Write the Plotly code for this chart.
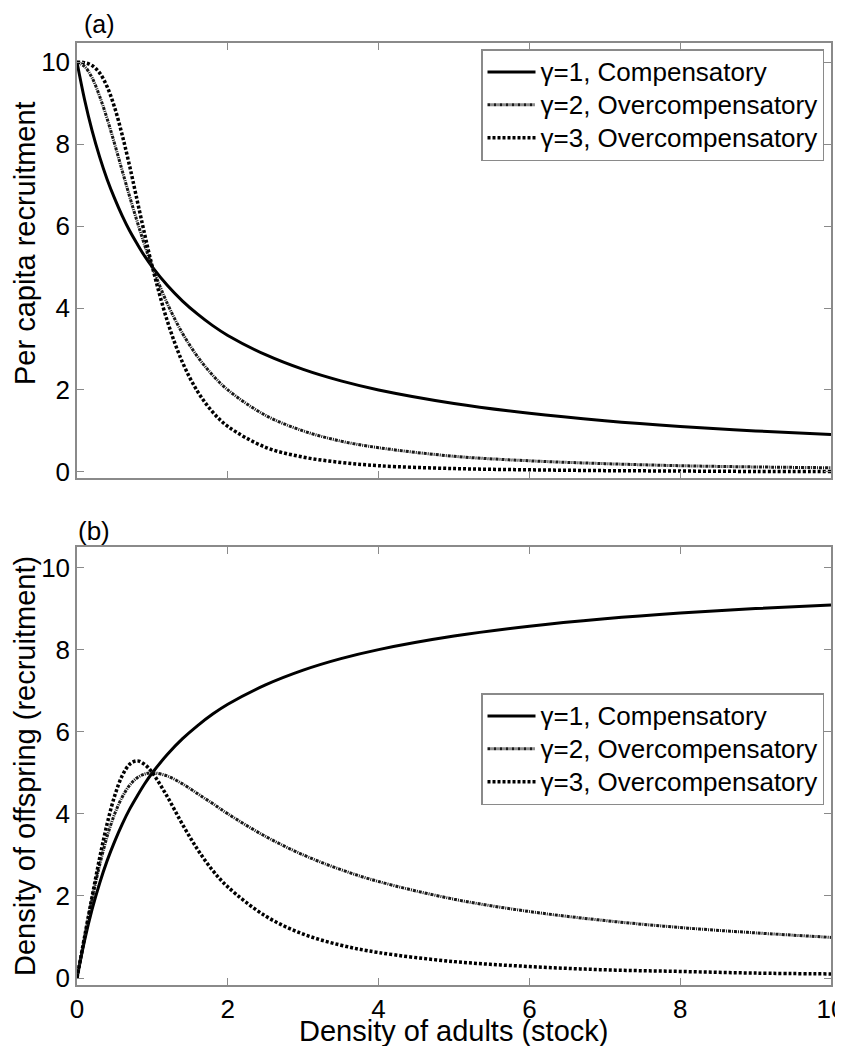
import plotly.graph_objects as go

# Density of adults (stock) sample positions
stock = [0, 0.1, 0.2, 0.3, 0.4, 0.5, 0.6, 0.7, 0.8, 0.9, 1.0, 1.2, 1.4, 1.6, 1.8,
         2.0, 2.5, 3.0, 3.5, 4.0, 5.0, 6.0, 7.0, 8.0, 9.0, 10.0]

# Panel (a): per capita recruitment
percap_g1 = [10, 9.09, 8.33, 7.69, 7.14, 6.67, 6.25, 5.88, 5.56, 5.26, 5.0, 4.55, 4.17, 3.85, 3.57,
             3.33, 2.86, 2.5, 2.22, 2.0, 1.67, 1.43, 1.25, 1.11, 1.0, 0.91]
percap_g2 = [10, 9.90, 9.62, 9.17, 8.62, 8.0, 7.35, 6.71, 6.10, 5.52, 5.0, 4.10, 3.38, 2.81, 2.36,
             2.0, 1.38, 1.0, 0.75, 0.59, 0.38, 0.27, 0.20, 0.15, 0.12, 0.10]
percap_g3 = [10, 9.99, 9.92, 9.74, 9.40, 8.89, 8.22, 7.45, 6.61, 5.78, 5.0, 3.67, 2.67, 1.96, 1.46,
             1.11, 0.60, 0.36, 0.23, 0.15, 0.08, 0.05, 0.03, 0.02, 0.01, 0.01]

# Panel (b): density of offspring (recruitment)
offs_g1 = [0, 0.91, 1.67, 2.31, 2.86, 3.33, 3.75, 4.12, 4.44, 4.74, 5.0, 5.45, 5.83, 6.15, 6.43,
           6.67, 7.14, 7.5, 7.78, 8.0, 8.33, 8.57, 8.75, 8.89, 9.0, 9.09]
offs_g2 = [0, 0.99, 1.92, 2.75, 3.45, 4.0, 4.41, 4.70, 4.88, 4.97, 5.0, 4.92, 4.73, 4.49, 4.25,
           4.0, 3.45, 3.0, 2.64, 2.35, 1.92, 1.62, 1.40, 1.23, 1.10, 0.99]
offs_g3 = [0, 1.0, 1.98, 2.92, 3.76, 4.44, 4.93, 5.21, 5.29, 5.20, 5.0, 4.41, 3.74, 3.13, 2.62,
           2.22, 1.51, 1.07, 0.80, 0.62, 0.40, 0.28, 0.20, 0.16, 0.12, 0.10]

names = ["\u03b3=1, Compensatory", "\u03b3=2, Overcompensatory", "\u03b3=3, Overcompensatory"]
xticks = [0, 2, 4, 6, 8, 10]
yticks = [0, 2, 4, 6, 8, 10]

styles = [
    dict(color="black", width=3, dash="solid"),
    dict(color="#1a1a1a", width=3, dash="3px,1px,1px,1px"),
    dict(color="black", width=3.5, dash="3px,2px"),
]


def big(s):
    return '<span style="font-size:26px">' + s + "</span>"


fig = go.Figure()
for vals, nm, st in zip([percap_g1, percap_g2, percap_g3], names, styles):
    fig.add_trace(go.Scatter(x=stock, y=vals, mode="lines", name=big(nm), line=dict(shape="spline", **st),
                             xaxis="x", yaxis="y", legend="legend"))
for vals, nm, st in zip([offs_g1, offs_g2, offs_g3], names, styles):
    fig.add_trace(go.Scatter(x=stock, y=vals, mode="lines", name=big(nm), line=dict(shape="spline", **st),
                             xaxis="x2", yaxis="y2", legend="legend2"))

FONT = "Liberation Sans, Arial, sans-serif"
axcol = "#8a8a8a"
common = dict(showgrid=False, zeroline=False, showline=True, linecolor=axcol, linewidth=1.5,
              mirror="ticks", ticks="inside", ticklen=7, tickcolor=axcol, tickwidth=1.2,
              automargin=False, tickfont=dict(size=26, color="black", family=FONT))

# page has an 8px body margin: work in page pixels, convert to figure pixels
OFF = 8
W, H = 843 - OFF, 1046 - OFF
L, R, T, B = 77, 831, 43, 985  # plot area edges in page pixels
l, t = L - OFF, T - OFF
r = W - (R - OFF)
b = H - (B - OFF)
pw = W - l - r
ph = H - t - b


def px(xp):
    return (xp - L) / pw


def py(yp):
    return (B - yp) / ph


fig.update_layout(
    width=W, height=H,
    margin=dict(l=l, r=r, t=t, b=b),
    paper_bgcolor="white", plot_bgcolor="white",
    font=dict(family=FONT, size=25, color="black"),
    xaxis=dict(domain=[0, 1], range=[0, 10], tickvals=xticks, showticklabels=False, anchor="y", **common),
    yaxis=dict(domain=[py(478), 1], range=[-0.15, 10.47], tickvals=yticks, anchor="x", **common),
    xaxis2=dict(domain=[0, 1], range=[0, 10], tickvals=xticks, anchor="y2",
                ticklabeloverflow="allow", **common),
    yaxis2=dict(domain=[0, py(547)], range=[-0.17, 10.5], tickvals=yticks, anchor="x2", **common),
    legend=dict(x=px(481), y=py(49), xanchor="left", yanchor="top",
                bgcolor="white", bordercolor=axcol, borderwidth=1.5, font=dict(size=23),
                tracegroupgap=0, itemwidth=48),
    legend2=dict(x=px(481), y=py(693), xanchor="left", yanchor="top",
                 bgcolor="white", bordercolor=axcol, borderwidth=1.5, font=dict(size=23),
                 tracegroupgap=0, itemwidth=48),
    annotations=[
        dict(text="(a)", xref="paper", yref="paper", x=px(82), y=py(8),
             xanchor="left", yanchor="top", showarrow=False, font=dict(size=25)),
        dict(text="(b)", xref="paper", yref="paper", x=px(76), y=py(514),
             xanchor="left", yanchor="top", showarrow=False, font=dict(size=26)),
        dict(text="Per capita recruitment", xref="paper", yref="paper", x=px(25), y=py(243),
             xanchor="center", yanchor="middle", textangle=-90, showarrow=False, font=dict(size=29)),
        dict(text="Density of offspring (recruitment)", xref="paper", yref="paper", x=px(25), y=py(766),
             xanchor="center", yanchor="middle", textangle=-90, showarrow=False, font=dict(size=29)),
        dict(text="Density of adults (stock)", xref="paper", yref="paper", x=px(453), y=py(1049),
             xanchor="center", yanchor="bottom", showarrow=False, font=dict(size=29)),
    ],
    showlegend=True,
)

fig.write_html("out.html")
